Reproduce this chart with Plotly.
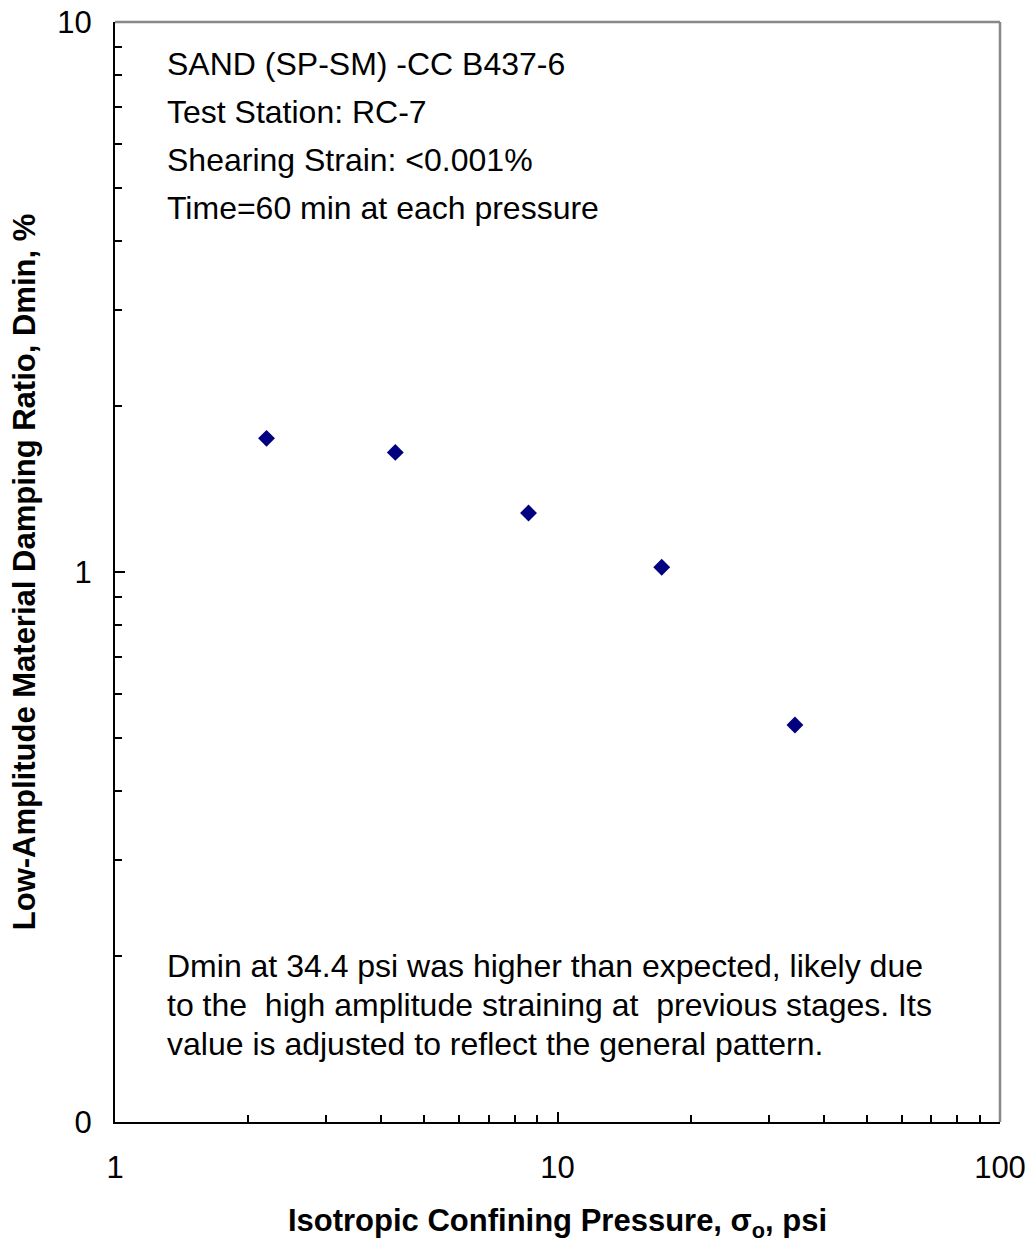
import plotly.graph_objects as go

# Isotropic confining pressure (psi) and low-amplitude damping ratio (%)
pressure_psi = [2.2, 4.3, 8.6, 17.2, 34.4]
dmin_pct = [1.75, 1.65, 1.28, 1.02, 0.527]

x_tick_vals = [1, 10, 100]
x_tick_text = ["1", "10", "100"]
y_tick_vals = [0.1, 1, 10]
y_tick_text = ["0", "1", "10"]

header_lines = [
    "SAND (SP-SM) -CC B437-6",
    "Test Station: RC-7",
    "Shearing Strain: <0.001%",
    "Time=60 min at each pressure",
]
note_lines = [
    "Dmin at 34.4 psi was higher than expected, likely due",
    "to the  high amplitude straining at  previous stages. Its",
    "value is adjusted to reflect the general pattern.",
]

FONT = "Liberation Sans, Arial, sans-serif"

def minor_vals(decades):
    return [m * d for d in decades for m in range(2, 10)]

fig = go.Figure()
fig.add_trace(go.Scatter(
    x=pressure_psi, y=dmin_pct, mode="markers",
    marker=dict(symbol="diamond", size=13, color="#000080",
                line=dict(width=0)),
    showlegend=False,
))

fig.update_xaxes(
    type="log", range=[0, 2], automargin=False,
    tickmode="array", tickvals=x_tick_vals, ticktext=x_tick_text,
    ticks="inside", ticklen=10, tickwidth=1.5, tickcolor="#000",
    minor=dict(tickmode="array", tickvals=minor_vals([1, 10]),
               ticks="inside", ticklen=7, tickwidth=1.5, tickcolor="#000"),
    showline=True, linecolor="#000", linewidth=2,
    showgrid=False, zeroline=False,
    tickfont=dict(family=FONT, size=31, color="#000"),
    ticklabelstandoff=17,
    title=dict(text="<b>Isotropic Confining Pressure, σ<sub>o</sub>, psi</b>",
               font=dict(family=FONT, size=31, color="#000"), standoff=30),
)
fig.update_yaxes(
    type="log", range=[-1, 1], automargin=False,
    tickmode="array", tickvals=y_tick_vals, ticktext=y_tick_text,
    ticks="inside", ticklen=10, tickwidth=1.5, tickcolor="#000",
    minor=dict(tickmode="array", tickvals=minor_vals([0.1, 1]),
               ticks="inside", ticklen=7, tickwidth=1.5, tickcolor="#000"),
    showline=True, linecolor="#000", linewidth=2,
    showgrid=False, zeroline=False,
    tickfont=dict(family=FONT, size=31, color="#000"),
    ticklabelstandoff=15,
    title=dict(text="<b>Low-Amplitude Material Damping Ratio, Dmin, %</b>",
               font=dict(family=FONT, size=31, color="#000"), standoff=12),
)

# Top and right frame in grey
fig.add_shape(type="line", xref="paper", yref="paper", x0=0, x1=1, y0=1, y1=1,
              line=dict(color="#888", width=2.5))
fig.add_shape(type="line", xref="paper", yref="paper", x0=1, x1=1, y0=0, y1=1,
              line=dict(color="#888", width=2.5))

for i, line in enumerate(header_lines):
    fig.add_annotation(xref="paper", yref="paper", x=0.057, y=0.962 - i * 0.0437,
                       text=line, showarrow=False, xanchor="left", yanchor="middle",
                       font=dict(family=FONT, size=32, color="#000"))
for i, line in enumerate(note_lines):
    fig.add_annotation(xref="paper", yref="paper", x=0.057, y=0.142 - i * 0.0355,
                       text=line, showarrow=False, xanchor="left", yanchor="middle",
                       font=dict(family=FONT, size=32, color="#000"))

fig.update_layout(
    width=1032, height=1243,
    margin=dict(l=115, r=32, t=22, b=121),
    plot_bgcolor="#fff", paper_bgcolor="#fff",
)

fig.write_html("out.html")
